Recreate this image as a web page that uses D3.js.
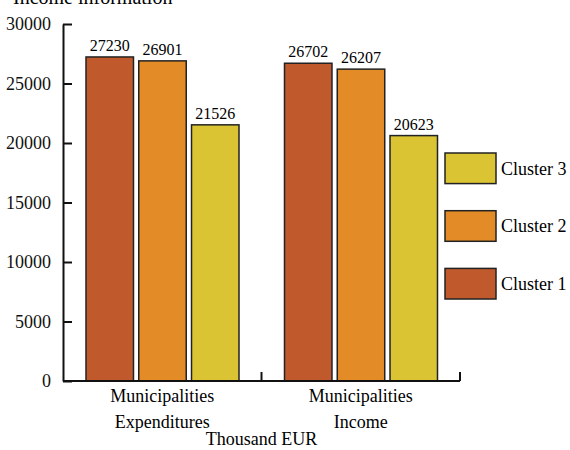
<!DOCTYPE html>
<html>
<head>
<meta charset="utf-8">
<script src="https://cdn.jsdelivr.net/npm/d3@7"></script>
<style>
  body { margin: 0; background: #fff; }
</style>
</head>
<body>
<script>
//
// DATA
//
var categories = ["Municipalities|Expenditures", "Municipalities|Income"];
var clusters = ["Cluster 1", "Cluster 2", "Cluster 3"];
var cluster1 = [27230, 26702];
var cluster2 = [26901, 26207];
var cluster3 = [21526, 20623];
var yTicks = [0, 5000, 10000, 15000, 20000, 25000, 30000];
var colors = ["#c05a2c", "#e38b26", "#dac434"];

var series = [cluster1, cluster2, cluster3];

//
// LAYOUT
//
var width = 570, height = 450;
var plotLeft = 63, plotRight = 460, plotTop = 24, plotBottom = 381;
var serif = "'Liberation Serif', 'Times New Roman', serif";

var svg = d3.select("body").append("svg")
    .attr("width", width)
    .attr("height", height);

var x0 = d3.scaleBand().domain(categories).range([plotLeft, plotRight]);
var x1 = d3.scaleBand().domain(clusters).range([23, 176]).paddingInner(0.1);
var y = d3.scaleLinear().domain([0, 30000]).range([plotBottom, plotTop]);

// Title (cut at the top in the original)
svg.append("text")
    .attr("x", 13).attr("y", 4)
    .style("font-family", serif)
    .style("font-size", "20px")
    .text("Income information");

// Bars
var groups = svg.selectAll("g.group")
    .data(categories)
    .enter().append("g")
    .attr("class", "group")
    .attr("transform", function(d){ return "translate(" + x0(d) + ",0)"; });

groups.each(function(cat, i){
    var g = d3.select(this);
    var rows = clusters.map(function(c, j){ return {c: c, v: series[j][i], col: colors[j]}; });
    g.selectAll("rect")
        .data(rows)
        .enter().append("rect")
        .attr("x", function(d){ return x1(d.c); })
        .attr("y", function(d){ return y(d.v); })
        .attr("width", x1.bandwidth())
        .attr("height", function(d){ return plotBottom - y(d.v); })
        .attr("fill", function(d){ return d.col; })
        .attr("stroke", "#222")
        .attr("stroke-width", 1.5);
    g.selectAll("text.val")
        .data(rows)
        .enter().append("text")
        .attr("class", "val")
        .attr("x", function(d){ return x1(d.c) + x1.bandwidth() / 2; })
        .attr("y", function(d){ return y(d.v) - 6; })
        .attr("text-anchor", "middle")
        .style("font-family", serif)
        .style("font-size", "16px")
        .text(function(d){ return d.v; });
});

// Y axis
var yAxis = d3.axisLeft(y).tickValues(yTicks).tickFormat(d3.format("d"))
    .tickSize(-9).tickPadding(12).tickSizeOuter(0);
var ya = svg.append("g").attr("transform", "translate(" + plotLeft + ",0)").call(yAxis);
ya.select(".domain").attr("stroke", "#111").attr("stroke-width", 2);
ya.selectAll(".tick line").attr("stroke", "#111").attr("stroke-width", 2);
ya.selectAll(".tick text").attr("fill", "#111")
    .style("font-family", serif).style("font-size", "18px");

// X axis
var xa = svg.append("g").attr("transform", "translate(0," + plotBottom + ")");
xa.append("line")
    .attr("x1", plotLeft).attr("x2", plotRight)
    .attr("stroke", "#111").attr("stroke-width", 2);
xa.selectAll("line.tick")
    .data(categories)
    .enter().append("line")
    .attr("class", "tick")
    .attr("x1", function(d){ return x0(d) + x0.bandwidth(); })
    .attr("x2", function(d){ return x0(d) + x0.bandwidth(); })
    .attr("y1", 0).attr("y2", -9)
    .attr("stroke", "#111").attr("stroke-width", 2);
xa.selectAll("text.cat")
    .data(categories)
    .enter().append("text")
    .attr("class", "cat")
    .attr("text-anchor", "middle")
    .style("font-family", serif)
    .style("font-size", "18px")
    .attr("transform", function(d){ return "translate(" + (x0(d) + x0.bandwidth() / 2) + ",0)"; })
    .each(function(d){
        var t = d3.select(this);
        d.split("|").forEach(function(line, k){
            t.append("tspan").attr("x", 0).attr("y", 21 + k * 26).text(line);
        });
    });

svg.append("text")
    .attr("x", (plotLeft + plotRight) / 2).attr("y", 445)
    .attr("text-anchor", "middle")
    .style("font-family", serif)
    .style("font-size", "18px")
    .text("Thousand EUR");

// Legend (Cluster 3 on top)
var legY = d3.scaleBand().domain(clusters.slice().reverse()).range([153, 299]).paddingInner(0.47);
var leg = svg.selectAll("g.leg")
    .data(clusters.slice().reverse())
    .enter().append("g")
    .attr("class", "leg")
    .attr("transform", function(d){ return "translate(445," + legY(d) + ")"; });
leg.append("rect")
    .attr("width", 51).attr("height", legY.bandwidth())
    .attr("fill", function(d){ return colors[clusters.indexOf(d)]; })
    .attr("stroke", "#222").attr("stroke-width", 1.5);
leg.append("text")
    .attr("x", 56).attr("y", legY.bandwidth() / 2)
    .attr("dy", "0.35em")
    .style("font-family", serif)
    .style("font-size", "18px")
    .text(function(d){ return d; });
</script>
</body>
</html>
